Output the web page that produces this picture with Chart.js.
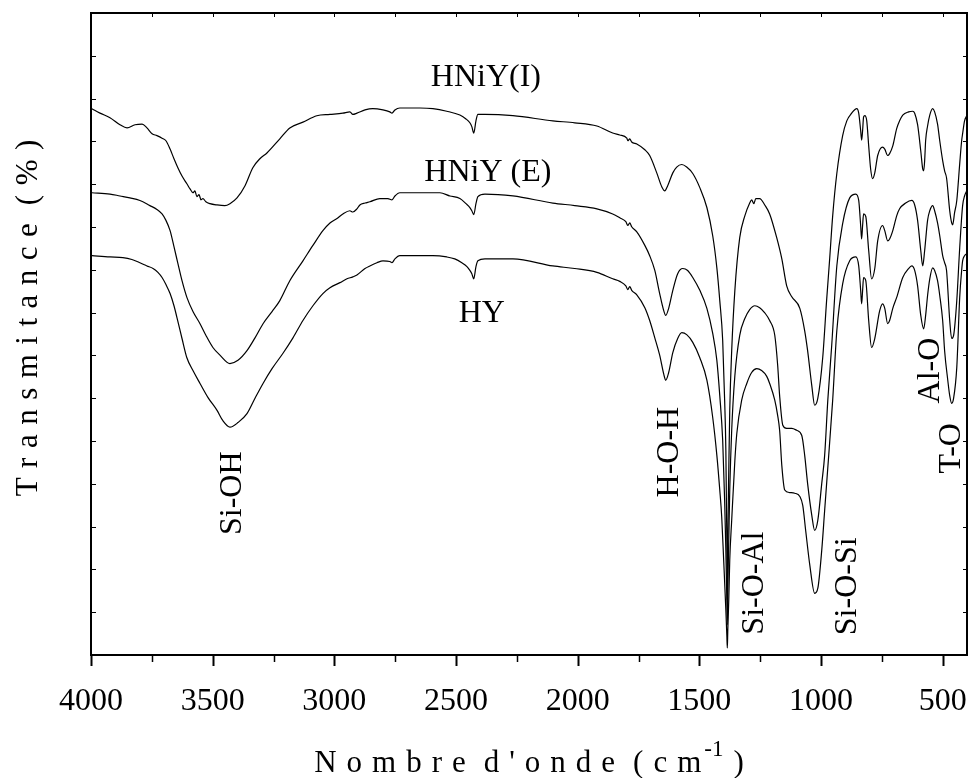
<!DOCTYPE html>
<html><head><meta charset="utf-8">
<script src="https://cdn.jsdelivr.net/npm/chart.js@4/dist/chart.umd.min.js"></script>
<style>html,body{margin:0;padding:0;background:#fff;}canvas{display:block;}</style>
</head><body>
<canvas id="c" width="969" height="778"></canvas>
<script>
// ---- data: [wavenumber (cm-1), transmittance (a.u.)] ----
const hniyI = [[3996,85.1],[3963,84.4],[3922,83.7],[3881,82.6],[3852,82.1],[3819,82.6],[3790,82.7],[3770,82.1],[3749,81.2],[3729,80.9],[3708,80.5],[3692,80.1],[3675,78.8],[3659,77.3],[3643,75.9],[3626,74.6],[3606,73.4],[3593,72.6],[3581,72.0],[3573,72.3],[3565,71.4],[3556,71.7],[3548,70.9],[3540,71.1],[3528,70.6],[3511,70.3],[3482,70.1],[3450,70.0],[3429,70.3],[3400,71.2],[3367,73.1],[3335,75.9],[3306,77.3],[3277,78.2],[3224,80.4],[3183,82.1],[3129,83.0],[3072,84.0],[3018,84.2],[2965,84.4],[2936,84.6],[2924,84.2],[2907,84.4],[2874,84.9],[2842,85.1],[2800,84.9],[2772,84.6],[2763,84.4],[2751,84.9],[2731,85.2],[2648,85.2],[2595,85.1],[2538,84.7],[2484,84.1],[2459,83.5],[2443,82.9],[2435,82.3],[2427,81.3],[2418,83.2],[2410,84.2],[2381,84.2],[2266,84.0],[2102,83.2],[2012,82.9],[1921,82.4],[1856,81.3],[1827,81.0],[1798,80.5],[1794,80.1],[1786,80.4],[1778,79.9],[1757,79.6],[1724,78.7],[1704,77.8],[1675,75.1],[1654,72.9],[1642,72.3],[1630,73.1],[1609,75.1],[1593,76.0],[1572,76.4],[1552,76.0],[1527,75.0],[1498,72.8],[1469,69.7],[1445,65.3],[1428,60.3],[1416,55.2],[1404,49.0],[1396,39.7],[1391,31.9],[1387,17.9],[1385,8.6],[1383,17.9],[1379,28.8],[1375,38.1],[1367,47.4],[1354,56.8],[1334,65.0],[1313,68.4],[1293,70.4],[1285,70.9],[1276,70.3],[1268,71.1],[1252,71.1],[1231,70.1],[1211,68.7],[1182,65.0],[1161,61.7],[1141,57.5],[1120,55.8],[1087,54.0],[1067,50.5],[1055,47.4],[1038,42.0],[1026,38.9],[1013,40.0],[993,46.3],[977,55.2],[964,61.9],[952,68.4],[935,75.0],[911,80.9],[894,83.2],[874,84.4],[853,85.1],[845,84.4],[837,81.7],[833,80.2],[829,81.7],[825,83.8],[820,84.0],[812,83.2],[804,79.3],[796,75.7],[788,74.2],[779,75.1],[767,77.8],[747,79.1],[738,78.8],[726,77.8],[718,78.1],[705,79.3],[689,82.0],[677,83.2],[664,84.1],[640,84.6],[623,84.7],[615,84.4],[603,82.6],[590,78.5],[582,75.7],[578,75.4],[574,77.0],[570,80.1],[562,82.4],[553,84.1],[541,85.1],[533,84.6],[521,82.7],[512,80.1],[500,77.0],[492,75.4],[484,74.3],[471,69.2],[463,67.3],[459,67.0],[451,68.9],[442,70.8],[430,76.5],[422,80.1],[418,81.2],[410,83.2],[401,84.0]];

const hniyE = [[3996,72.0],[3922,71.8],[3881,71.5],[3840,71.2],[3799,70.8],[3758,70.0],[3729,69.4],[3708,68.7],[3692,67.7],[3675,66.1],[3659,63.6],[3643,61.0],[3626,58.3],[3606,55.7],[3581,53.5],[3552,51.6],[3528,49.8],[3499,47.9],[3470,46.7],[3429,45.4],[3396,45.9],[3359,47.4],[3326,49.4],[3293,51.6],[3256,53.5],[3224,55.2],[3183,58.3],[3129,61.4],[3088,63.8],[3047,66.1],[3018,67.3],[2989,68.0],[2965,68.7],[2936,69.2],[2924,69.0],[2907,69.5],[2895,70.1],[2874,70.4],[2854,70.6],[2813,71.1],[2780,71.1],[2763,70.9],[2751,71.5],[2731,72.0],[2648,72.0],[2566,72.0],[2525,71.5],[2484,71.1],[2459,70.3],[2443,69.7],[2435,69.2],[2427,68.6],[2418,70.3],[2410,71.4],[2381,71.8],[2266,71.5],[2102,70.4],[2012,70.0],[1921,69.5],[1856,68.7],[1827,68.1],[1802,67.5],[1794,66.9],[1786,67.3],[1778,66.7],[1757,65.9],[1724,63.8],[1704,62.2],[1683,59.9],[1663,56.3],[1646,53.6],[1638,52.9],[1626,54.0],[1609,56.8],[1589,59.4],[1568,60.2],[1548,59.9],[1527,58.8],[1498,56.8],[1469,54.0],[1445,50.1],[1428,45.9],[1416,40.4],[1404,33.4],[1396,24.1],[1391,16.3],[1387,8.6],[1385,4.7],[1383,10.1],[1379,17.9],[1375,25.7],[1367,35.0],[1354,43.5],[1334,49.8],[1313,52.4],[1293,53.8],[1272,54.4],[1252,54.1],[1231,53.3],[1211,52.1],[1190,49.8],[1178,45.1],[1170,40.4],[1157,35.8],[1141,35.3],[1120,35.3],[1100,35.0],[1079,34.2],[1067,31.1],[1055,26.7],[1038,21.8],[1026,19.4],[1013,21.0],[997,26.7],[985,31.1],[972,39.7],[956,48.2],[935,60.6],[911,67.2],[882,71.2],[857,71.8],[845,70.8],[837,66.9],[833,64.8],[829,66.9],[825,68.7],[816,68.3],[804,63.0],[792,58.6],[779,60.2],[767,64.5],[747,66.9],[738,66.1],[726,64.5],[718,64.8],[705,66.1],[689,68.4],[677,69.5],[652,70.4],[627,70.8],[615,70.1],[603,67.7],[590,63.0],[582,60.6],[574,63.0],[562,67.7],[553,69.2],[541,70.0],[533,69.2],[521,67.3],[512,65.3],[500,62.2],[492,61.1],[484,59.9],[471,52.1],[463,49.3],[455,49.8],[442,55.2],[430,63.4],[418,70.0],[410,71.5],[401,72.3]];

const hy = [[3996,62.2],[3922,62.0],[3869,61.9],[3832,61.6],[3799,61.1],[3770,60.6],[3745,60.2],[3725,59.6],[3708,58.8],[3692,57.7],[3675,56.3],[3659,54.4],[3647,52.6],[3626,49.3],[3606,46.3],[3581,44.3],[3552,42.3],[3519,40.1],[3482,38.1],[3458,36.5],[3429,35.5],[3396,36.2],[3359,37.6],[3326,40.0],[3293,42.3],[3256,44.6],[3211,47.0],[3170,49.4],[3129,52.1],[3088,54.4],[3047,56.3],[3018,57.2],[2977,58.0],[2948,58.6],[2924,58.9],[2907,59.2],[2874,60.2],[2854,60.6],[2825,61.1],[2800,61.4],[2772,61.3],[2763,61.1],[2751,61.7],[2731,62.2],[2648,62.2],[2595,62.2],[2538,62.0],[2505,61.7],[2476,61.1],[2455,60.5],[2443,59.9],[2435,59.4],[2427,58.6],[2418,60.5],[2410,61.4],[2381,61.7],[2266,61.7],[2102,60.6],[2012,60.2],[1921,59.6],[1856,58.6],[1827,58.2],[1802,57.5],[1794,56.9],[1786,57.4],[1778,56.8],[1757,56.1],[1724,54.1],[1704,52.1],[1683,49.4],[1663,46.7],[1646,43.7],[1638,42.8],[1626,44.0],[1609,47.1],[1589,49.3],[1572,50.2],[1552,49.9],[1527,48.7],[1498,46.3],[1469,42.8],[1445,37.0],[1428,31.1],[1416,25.7],[1408,21.5],[1400,14.8],[1391,7.0],[1387,3.1],[1385,1.1],[1383,3.9],[1379,8.6],[1375,14.8],[1367,21.0],[1354,30.3],[1346,34.5],[1326,39.7],[1305,42.3],[1285,44.0],[1264,44.6],[1244,44.3],[1223,43.4],[1211,42.3],[1190,39.7],[1178,37.3],[1170,35.0],[1161,29.5],[1149,25.7],[1129,25.3],[1108,25.2],[1087,24.7],[1075,23.3],[1063,19.4],[1046,14.0],[1026,9.6],[1013,10.4],[997,16.3],[985,22.5],[972,29.2],[952,39.7],[935,50.5],[911,57.8],[882,61.4],[857,62.0],[845,60.6],[837,56.8],[833,54.7],[829,56.8],[825,58.8],[816,58.3],[804,52.1],[792,47.9],[779,49.3],[759,53.6],[747,54.7],[738,54.0],[726,51.6],[718,52.1],[705,54.0],[689,55.7],[664,58.8],[640,60.2],[627,60.6],[615,59.9],[603,57.5],[590,52.9],[578,50.8],[570,52.9],[562,56.0],[553,58.6],[541,60.3],[533,59.9],[521,58.3],[512,56.0],[500,52.1],[492,47.4],[479,42.8],[471,40.4],[463,39.2],[455,40.0],[442,44.8],[430,55.7],[422,59.9],[418,61.4],[410,62.2],[401,62.5]];

const xTickValues = [4000,3500,3000,2500,2000,1500,1000,500];
const xTickLabels = ['4000','3500','3000','2500','2000','1500','1000','500'];
const seriesNames = ['HNiY(I)','HNiY (E)','HY'];
const seriesNameWn = [2377,2369,2394];
const seriesNameT = [90.0,75.1,53.2];
const bandLabels = ['Si-OH','H-O-H','Si-O-Al','Si-O-Si','Al-O','T-O'];
const bandWn = [3417,1621,1272,890,549,463];
const bandT = [25.2,31.6,11.2,10.7,44.3,32.2];
const xTitle = "Nombre d'onde (cm";
const xTitleSup = '-1';
const yTitle = 'Transmitance (%)';

const FONT = '"Liberation Serif","Times New Roman",serif';

function spacedWidth(ctx, text, gap, wordGap){
  let w = 0, first = true;
  for (const ch of text){
    if (ch === ' '){ w += wordGap; first = true; continue; }
    if (!first) w += gap;
    w += ctx.measureText(ch).width; first = false;
  }
  return w;
}
function drawSpaced(ctx, text, x0, y, gap, wordGap){
  let x = x0, first = true;
  for (const ch of text){
    if (ch === ' '){ x += wordGap; first = true; continue; }
    if (!first) x += gap;
    ctx.fillText(ch, x, y);
    x += ctx.measureText(ch).width; first = false;
  }
  return x;
}

const decor = {
  id: 'decor',
  afterDraw(chart){
    const {ctx, chartArea: a, scales: {x, y}} = chart;
    ctx.save();
    ctx.strokeStyle = '#000'; ctx.fillStyle = '#000';
    // frame
    ctx.lineWidth = 2;
    ctx.strokeRect(a.left, a.top, a.right - a.left, a.bottom - a.top);
    // x ticks
    for (let v = 4000; v >= 500; v -= 250){
      const px = Math.round(x.getPixelForValue(v)) + 0.5;
      const major = v % 500 === 0;
      ctx.lineWidth = major ? 2 : 1.5;
      ctx.beginPath(); ctx.moveTo(px, a.bottom); ctx.lineTo(px, a.bottom + (major ? 11 : 7)); ctx.stroke();
      ctx.lineWidth = 1;
      ctx.beginPath(); ctx.moveTo(px, a.top); ctx.lineTo(px, a.top + 4); ctx.stroke();
    }
    // y ticks (inward, both sides)
    ctx.lineWidth = 1;
    for (let k = 1; k < 15; k++){
      const py = Math.round(y.getPixelForValue(k * 100 / 15)) + 0.5;
      ctx.beginPath(); ctx.moveTo(a.left, py); ctx.lineTo(a.left + 5, py); ctx.stroke();
      ctx.beginPath(); ctx.moveTo(a.right, py); ctx.lineTo(a.right - 4, py); ctx.stroke();
    }
    // x tick labels
    ctx.font = '32px ' + FONT;
    ctx.textAlign = 'center'; ctx.textBaseline = 'alphabetic';
    xTickValues.forEach((v, i) => ctx.fillText(xTickLabels[i], x.getPixelForValue(v), a.bottom + 55));
    // x title
    ctx.font = '31px ' + FONT;
    ctx.textAlign = 'left';
    const g = 10, wg = 18;
    const w1 = spacedWidth(ctx, xTitle, g, wg);
    ctx.font = '23px ' + FONT;
    const wsup = ctx.measureText(xTitleSup).width;
    ctx.font = '31px ' + FONT;
    const wpar = ctx.measureText(')').width;
    const total = w1 + 3 + wsup + g + wpar;
    const cx = (a.left + a.right) / 2;
    let xx = cx - total / 2;
    const base = a.bottom + 117;
    xx = drawSpaced(ctx, xTitle, xx, base, g, wg);
    ctx.font = '23px ' + FONT;
    ctx.fillText(xTitleSup, xx + 3, base - 16);
    xx += 3 + wsup + g;
    ctx.font = '31px ' + FONT;
    ctx.fillText(')', xx, base);
    // y title (rotated)
    ctx.save();
    const wy = spacedWidth(ctx, yTitle, 9.5, 18);
    ctx.translate(37, 318);
    ctx.rotate(-Math.PI / 2);
    drawSpaced(ctx, yTitle, -wy / 2, 0, 9.5, 18);
    ctx.restore();
    // series names
    ctx.font = '32px ' + FONT;
    ctx.textAlign = 'center'; ctx.textBaseline = 'middle';
    seriesNames.forEach((s, i) => ctx.fillText(s, x.getPixelForValue(seriesNameWn[i]), y.getPixelForValue(seriesNameT[i])));
    // band labels (rotated)
    bandLabels.forEach((s, i) => {
      ctx.save();
      ctx.translate(x.getPixelForValue(bandWn[i]), y.getPixelForValue(bandT[i]));
      ctx.rotate(-Math.PI / 2);
      ctx.fillText(s, 0, 0);
      ctx.restore();
    });
    ctx.restore();
  }
};

const mk = (arr) => arr.map(p => ({x: p[0], y: p[1]}));
const ds = (label, arr) => ({label, data: mk(arr), borderColor: '#000', borderWidth: 1.2, pointRadius: 0, fill: false, cubicInterpolationMode: 'monotone'});

new Chart(document.getElementById('c'), {
  type: 'line',
  data: { datasets: [ds(seriesNames[0], hniyI), ds(seriesNames[1], hniyE), ds(seriesNames[2], hy)] },
  options: {
    responsive: false, animation: false, devicePixelRatio: 1,
    layout: { padding: { left: 91, top: 13, right: 2, bottom: 123 } },
    scales: {
      x: { type: 'linear', reverse: true, min: 400, max: 4000, display: false },
      y: { type: 'linear', min: 0, max: 100, display: false }
    },
    plugins: { legend: { display: false }, tooltip: { enabled: false } }
  },
  plugins: [decor]
});
</script>
</body></html>
